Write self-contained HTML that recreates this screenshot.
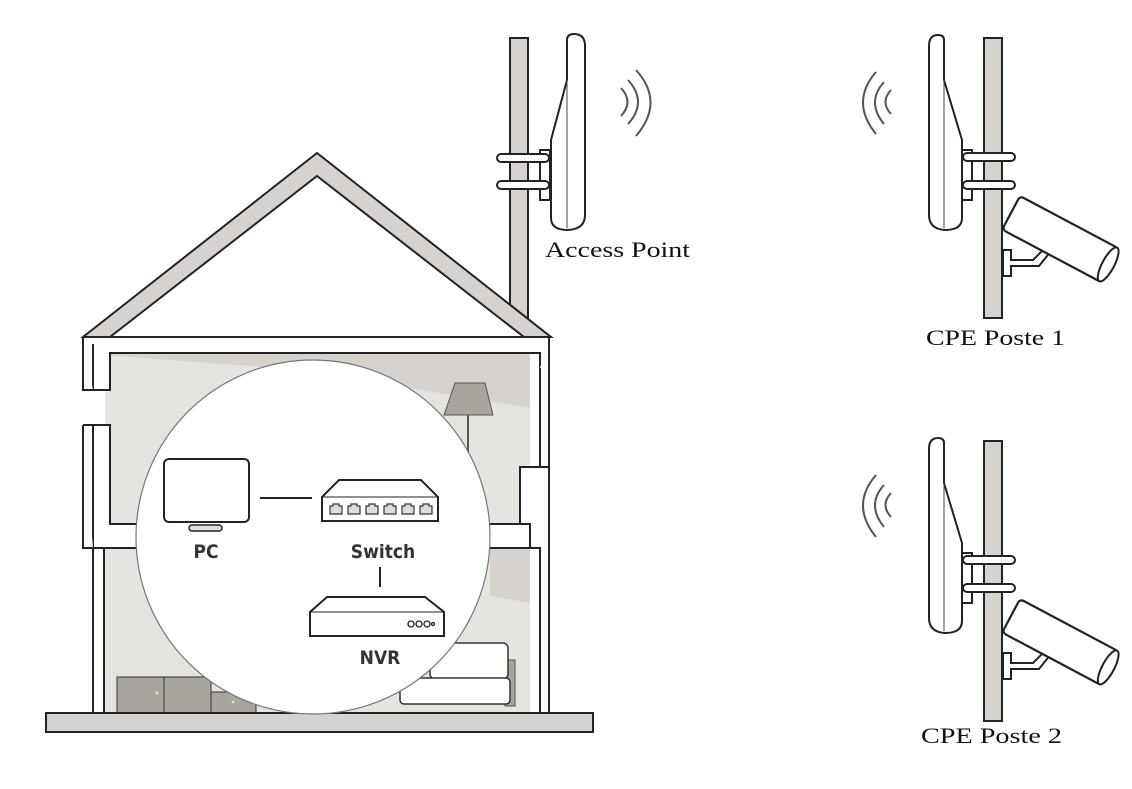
<!DOCTYPE html>
<html><head><meta charset="utf-8"><style>
html,body{margin:0;padding:0;background:#fff;width:1132px;height:789px;overflow:hidden}
svg{display:block}
.l{font-family:"Liberation Serif",serif;font-size:22px;fill:#111}
.s{font-family:"DejaVu Sans Condensed","DejaVu Sans",sans-serif;font-weight:bold;font-size:19px;fill:#333}
</style></head><body>
<svg width="1132" height="789" viewBox="0 0 1132 789" xmlns="http://www.w3.org/2000/svg">
<defs>
<g id="cpe">
 <g fill="none" stroke="#555" stroke-width="2">
  <path d="M876 72 Q850 102 876 134"/>
  <path d="M884 82 Q866 102 884 124"/>
  <path d="M891 90 Q880 102 891 114"/>
 </g>
 <rect x="984" y="38" width="18" height="280" fill="#d6d3ce" stroke="#222" stroke-width="2"/>
 <path d="M962 150 h10 v50 h-10z" fill="#fff" stroke="#222" stroke-width="2"/>
 <rect x="963" y="153" width="52" height="8" rx="4" fill="#fff" stroke="#222" stroke-width="2"/>
 <rect x="963" y="181" width="52" height="8" rx="4" fill="#fff" stroke="#222" stroke-width="2"/>
 <path d="M938 35 Q929 35 929 46 V215 Q929 229 945 230 Q962 230 962 218 V140 L944 80 V40 Q944 35 938 35Z" fill="#fff" stroke="#222" stroke-width="2"/>
 <line x1="944" y1="80" x2="944" y2="228" stroke="#444" stroke-width="1"/>
 <path d="M1003 250 h8 v10 h22 l14 -14 h8 l-16 20 h-28 v10 h-8z" fill="#fff" stroke="#222" stroke-width="2"/>
 <g transform="translate(1020,196) rotate(28)">
  <rect x="0" y="0" width="112" height="38" rx="4" fill="#fff" stroke="#222" stroke-width="2.2"/>
  <ellipse cx="110" cy="19" rx="6" ry="19" fill="#fff" stroke="#222" stroke-width="2"/>
 </g>
</g>
</defs>

<rect x="510" y="38" width="18" height="300" fill="#d6d3ce" stroke="#222" stroke-width="2"/>
<polygon points="317,153 551,337 83,337" fill="#d6d3ce" stroke="#222" stroke-width="2"/>
<polygon points="317,176 524,337 110,337" fill="#fff" stroke="#222" stroke-width="2"/>

<rect x="93" y="344" width="456" height="370" fill="#fff"/>
<rect x="105" y="353" width="425" height="172" fill="#e6e4e0"/>
<polygon points="105,353 530,353 530,408 300,370 105,355" fill="#d6d3ce"/>
<rect x="104" y="548" width="426" height="164" fill="#e6e4e0"/>
<polygon points="490,548 530,548 530,603 490,596" fill="#d6d3ce"/>
<line x1="468" y1="415" x2="468" y2="470" stroke="#555" stroke-width="2"/>
<polygon points="455,383 485,383 493,415 444,415" fill="#a8a49e" stroke="#555" stroke-width="1"/>
<rect x="505" y="660" width="10" height="46" fill="#a8a49e" stroke="#555"/>
<rect x="430" y="643" width="78" height="36" rx="5" fill="#fff" stroke="#333" stroke-width="1.5"/>
<rect x="400" y="678" width="110" height="26" rx="4" fill="#fff" stroke="#333" stroke-width="1.5"/>
<rect x="117" y="677" width="47" height="36" fill="#a8a49e" stroke="#333"/>
<rect x="164" y="677" width="47" height="36" fill="#a8a49e" stroke="#333"/>
<rect x="211" y="692" width="45" height="21" fill="#a8a49e" stroke="#333"/>
<circle cx="157" cy="693" r="1.5" fill="#f3dc98"/><circle cx="233" cy="702" r="1.5" fill="#f3dc98"/>

<g fill="#fff" stroke="#222" stroke-width="2">
 <path d="M83 337 H549 V368 H540 V353 H110 V390 H93 V344"/>
 <path d="M83 337 V390 H93"/>
 <path d="M83 425 H110 V524 H530 V548 H93 V425"/>
 <path d="M83 425 V548 H93"/>
 <rect x="93" y="548" width="11" height="165"/>
 <path d="M540 368 V467 H549 V337"/>
 <path d="M520 467 H549 V713 H540 V548 H530 V524 H520Z"/>
</g>
<rect x="46" y="713" width="547" height="19" fill="#d6d3ce" stroke="#222" stroke-width="2"/>

<circle cx="313" cy="537" r="177" fill="#fff" stroke="#777" stroke-width="1.2"/>
<rect x="164" y="459" width="85" height="63" rx="5" fill="#fff" stroke="#222" stroke-width="2"/>
<rect x="189" y="525" width="33" height="6" rx="3" fill="#ddd" stroke="#222" stroke-width="1.5"/>
<text class="s" x="206" y="558" text-anchor="middle">PC</text>
<line x1="260" y1="498" x2="312" y2="498" stroke="#222" stroke-width="2"/>
<path d="M322 497 L339 480 H421 L438 497 V521 H322Z" fill="#fff" stroke="#222" stroke-width="2"/>
<line x1="322" y1="497" x2="438" y2="497" stroke="#222" stroke-width="1"/>
<g fill="#ddd" stroke="#333" stroke-width="1.2">
 <path d="M330 514 v-8 h3 v-2 h6 v2 h3 v8z"/>
 <path d="M348 514 v-8 h3 v-2 h6 v2 h3 v8z"/>
 <path d="M366 514 v-8 h3 v-2 h6 v2 h3 v8z"/>
 <path d="M384 514 v-8 h3 v-2 h6 v2 h3 v8z"/>
 <path d="M402 514 v-8 h3 v-2 h6 v2 h3 v8z"/>
 <path d="M420 514 v-8 h3 v-2 h6 v2 h3 v8z"/>
</g>
<text class="s" x="383" y="558" text-anchor="middle">Switch</text>
<line x1="380" y1="567" x2="380" y2="587" stroke="#222" stroke-width="2"/>
<path d="M310 612 L327 597 H425 L444 612 V636 H310Z" fill="#fff" stroke="#222" stroke-width="2"/>
<line x1="310" y1="612" x2="444" y2="612" stroke="#222" stroke-width="1"/>
<g fill="#fff" stroke="#222" stroke-width="1.3"><circle cx="411" cy="624" r="3"/><circle cx="419" cy="624" r="3"/><circle cx="427" cy="624" r="3"/><circle cx="433" cy="624" r="1.5"/></g>
<text class="s" x="380" y="664" text-anchor="middle">NVR</text>

<path d="M540 150 h10 v50 h-10z" fill="#fff" stroke="#222" stroke-width="2"/>
<rect x="497" y="154" width="52" height="8" rx="4" fill="#fff" stroke="#222" stroke-width="2"/>
<rect x="497" y="181" width="52" height="8" rx="4" fill="#fff" stroke="#222" stroke-width="2"/>
<path d="M574 34 Q585 34 585 46 V215 Q585 229 568 230 Q551 230 551 218 V140 L567 80 V40 Q567 34 574 34Z" fill="#fff" stroke="#222" stroke-width="2"/>
<line x1="567" y1="80" x2="567" y2="228" stroke="#444" stroke-width="1"/>
<g fill="none" stroke="#555" stroke-width="2">
 <path d="M636 70 Q665 102 636 136"/>
 <path d="M628 80 Q648 102 628 124"/>
 <path d="M621 88 Q634 102 621 116"/>
</g>
<text class="l" x="545" y="257" textLength="145" lengthAdjust="spacingAndGlyphs">Access Point</text>

<use href="#cpe"/>
<use href="#cpe" transform="translate(0,403)"/>
<text class="l" x="926" y="345" textLength="139" lengthAdjust="spacingAndGlyphs">CPE Poste 1</text>
<text class="l" x="921" y="743" textLength="141" lengthAdjust="spacingAndGlyphs">CPE Poste 2</text>
</svg>
</body></html>
